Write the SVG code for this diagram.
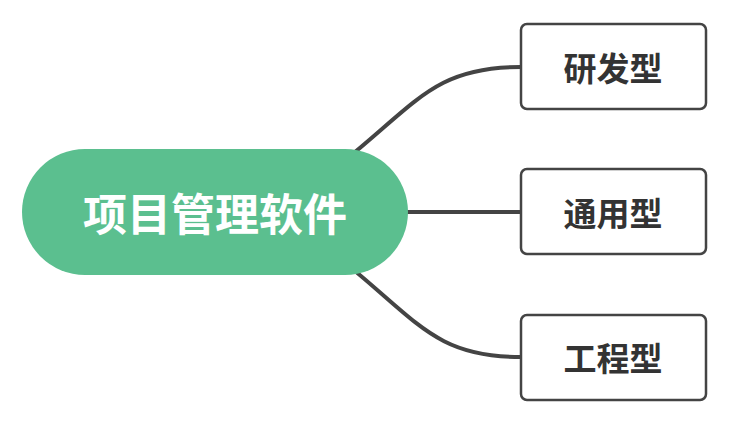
<svg xmlns="http://www.w3.org/2000/svg" width="744" height="436" viewBox="0 0 744 436">
<style>
.box{fill:#fff;stroke:#444;stroke-width:2.5}
.t{font-family:"Noto Sans CJK SC","Liberation Sans",sans-serif;font-weight:bold;font-size:33px;fill:#333;text-anchor:middle;dominant-baseline:central}
.c{fill:none;stroke:#444;stroke-width:4;stroke-linecap:round}
</style>
<rect width="744" height="436" fill="#fff"/>
<g id="connectors">
<path class="c" d="M355,152 C420,98 440,67 521,67"/>
<path class="c" d="M404,212 L521,212"/>
<path class="c" d="M355,271 C420,325 440,357 521,357"/>
</g>
<g id="root">
<rect x="22" y="149" width="386" height="126" rx="63" fill="#5bbf8f"/>
<text x="215" y="212" class="t" style="fill:#fff;font-size:44px">项目管理软件</text>
</g>
<g id="n1"><rect class="box" x="521" y="24" width="185" height="85" rx="6"/><text class="t" x="613" y="67">研发型</text></g>
<g id="n2"><rect class="box" x="521" y="169" width="185" height="85" rx="6"/><text class="t" x="613" y="212">通用型</text></g>
<g id="n3"><rect class="box" x="521" y="315" width="185" height="85" rx="6"/><text class="t" x="613" y="357">工程型</text></g>
</svg>
